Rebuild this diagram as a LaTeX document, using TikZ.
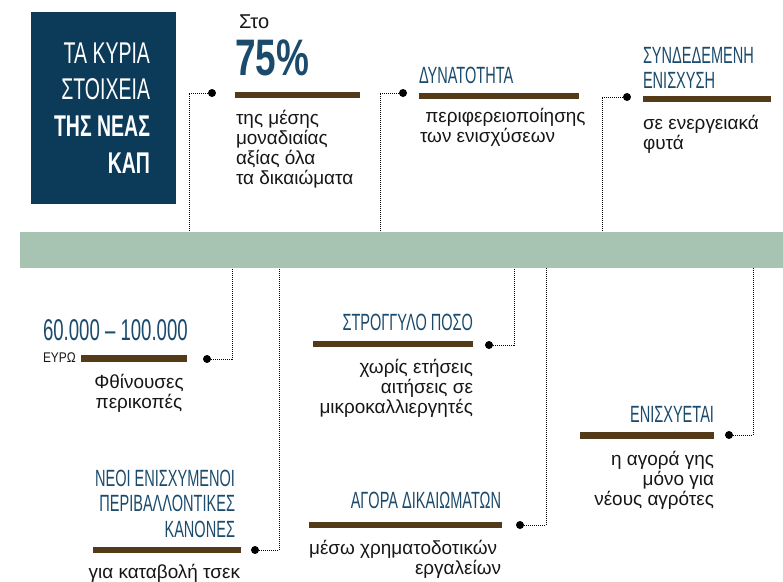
\documentclass[tikz,border=0pt]{standalone}
\usepackage{fontspec}
\setmainfont{Liberation Sans}
\newfontfamily\cond[FakeStretch=0.62]{Liberation Sans}
\newfontfamily\condt[FakeStretch=0.65]{Liberation Sans}
\newfontfamily\condw[FakeStretch=0.72]{Liberation Sans}
\newfontfamily\conde[FakeStretch=0.85]{Liberation Sans}
\definecolor{navybox}{HTML}{0C3A59}
\definecolor{navytxt}{HTML}{1A4A6C}
\definecolor{barc}{HTML}{533A18}
\definecolor{bandc}{HTML}{A7C4B2}
\definecolor{bodyc}{HTML}{161616}
\begin{document}
\begin{tikzpicture}[x=0.75pt,y=-0.75pt,
  txt/.style={inner sep=0, outer sep=0},
  body/.style={txt, text=bodyc, font=\fontsize{14.2pt}{15pt}\selectfont},
  head/.style={txt, text=navytxt, font=\cond\fontsize{17.6pt}{19pt}\selectfont},
  dot/.style={circle, fill=black, inner sep=0, minimum size=6pt},
  conn/.style={draw=black, line width=0.5pt, dash pattern=on 0.6pt off 0.9pt},
  bar/.style={fill=barc}]
\useasboundingbox (0,0) rectangle (783,582);

% title box and band
\fill[navybox] (31,12) rectangle (176,204);
\fill[bandc] (20,232) rectangle (783,268);
\node[txt, text=white, font=\condt\fontsize{22.5pt}{27.5pt}\selectfont, align=right, anchor=base east] (title) at (150,173)
  {ΤΑ ΚΥΡΙΑ\\ΣΤΟΙΧΕΙΑ\\{\bfseries ΤΗΣ ΝΕΑΣ}\\{\bfseries ΚΑΠ}};

% bars
\fill[bar] (235,92) rectangle (360,98);
\fill[bar] (419,93) rectangle (579,99);
\fill[bar] (643,96) rectangle (771,102);
\fill[bar] (81,355) rectangle (187,362);
\fill[bar] (313,341) rectangle (473,347);
\fill[bar] (580,432) rectangle (714,439);
\fill[bar] (93,547) rectangle (241,553);
\fill[bar] (309,522) rectangle (502,528);

% top texts
\node[txt, text=bodyc, font=\fontsize{15pt}{15pt}\selectfont, anchor=base west] (sto) at (239,28) {Στο};
\node[txt, text=navytxt, font=\condw\bfseries\fontsize{38.5pt}{40pt}\selectfont, anchor=base west] (pct) at (235,75) {75\%};
\node[body, anchor=base west, align=left] (t1) at (236,184) {της μέσης\\μοναδιαίας\\αξίας όλα\\τα δικαιώματα};

\node[head, anchor=base west] (h2) at (419,83) {ΔΥΝΑΤΟΤΗΤΑ};
\node[body, anchor=base west, align=left] (t2) at (420,142) {\hspace*{4pt}περιφερειοποίησης\\των ενισχύσεων};

\node[head, anchor=base west, align=left] (h3) at (643,88.5) {ΣΥΝΔΕΔΕΜΕΝΗ\\ΕΝΙΣΧΥΣΗ};
\node[body, anchor=base west, align=left] (t3) at (643,149) {σε ενεργειακά\\φυτά};

% bottom texts
\node[txt, text=navytxt, font=\cond\fontsize{22.5pt}{24pt}\selectfont, anchor=base west] (h4) at (43,340) {60.000 – 100.000};
\node[txt, text=bodyc, font=\conde\fontsize{10.5pt}{12pt}\selectfont, anchor=base west] (eur) at (43,362) {ΕΥΡΩ};
\node[body, anchor=base, align=center] (t4) at (139,408) {Φθίνουσες\\περικοπές};

\node[head, anchor=base east] (h5) at (473,330) {ΣΤΡΟΓΓΥΛΟ ΠΟΣΟ};
\node[body, anchor=base east, align=right] (t5) at (473,413) {χωρίς ετήσεις\\αιτήσεις σε\\μικροκαλλιεργητές};

\node[head, anchor=base east] (h6) at (714,422) {ΕΝΙΣΧΥΕΤΑΙ};
\node[body, anchor=base east, align=right] (t6) at (714,505) {η αγορά γης\\μόνο για\\νέους αγρότες};

\node[head, anchor=base east, align=right] (h7) at (235,537) {ΝΕΟΙ ΕΝΙΣΧΥΜΕΝΟΙ\\ΠΕΡΙΒΑΛΛΟΝΤΙΚΕΣ\\ΚΑΝΟΝΕΣ};
\node[body, anchor=base east] (t7) at (240,578) {για καταβολή τσεκ};

\node[head, anchor=base east] (h8) at (501,508) {ΑΓΟΡΑ ΔΙΚΑΙΩΜΑΤΩΝ};
\node[body, anchor=base east, align=right] (t8) at (501,574) {μέσω χρηματοδοτικών\hspace*{3pt}\\εργαλείων};

% dots
\node[dot] (d1) at (212,93) {};
\node[dot] (d2) at (403,93) {};
\node[dot] (d3) at (627,97) {};
\node[dot] (d4) at (207,359) {};
\node[dot] (d5) at (255,550) {};
\node[dot] (d6) at (489,345) {};
\node[dot] (d7) at (520,525) {};
\node[dot] (d8) at (729,435) {};

% connector ends on the band
\coordinate (c1) at (189,232);
\coordinate (c2) at (380,232);
\coordinate (c3) at (602,232);
\coordinate (c4) at (232,268);
\coordinate (c5) at (279,268);
\coordinate (c6) at (514,268);
\coordinate (c7) at (546,268);
\coordinate (c8) at (753,268);

\draw[conn] (d1) -| (c1);
\draw[conn] (d2) -| (c2);
\draw[conn] (d3) -| (c3);
\draw[conn] (d4) -| (c4);
\draw[conn] (d5) -| (c5);
\draw[conn] (d6) -| (c6);
\draw[conn] (d7) -| (c7);
\draw[conn] (d8) -| (c8);
\end{tikzpicture}
\end{document}
